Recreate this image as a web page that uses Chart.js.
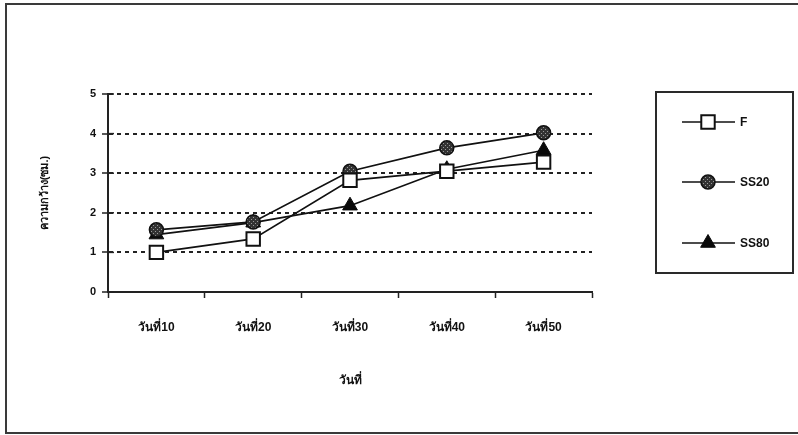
<!DOCTYPE html>
<html>
<head>
<meta charset="utf-8">
<script src="https://cdn.jsdelivr.net/npm/chart.js@4.4.1/dist/chart.umd.min.js"></script>
<style>
  html, body { margin: 0; padding: 0; background: #fff; }
  #wrap { position: relative; width: 798px; height: 435px; overflow: hidden; }
  #frame { position: absolute; left: 5px; top: 3px; width: 820px; height: 427px; border: 2px solid #3a3a3a; }
  canvas { position: absolute; left: 0; top: 0; }
</style>
</head>
<body>
<div id="wrap">
  <div id="frame"></div>
  <canvas id="c" width="798" height="435"></canvas>
</div>
<script>
// Days of measurement
const categories = ['วันที่10', 'วันที่20', 'วันที่30', 'วันที่40', 'วันที่50'];
// Width (cm) per treatment
const seriesF = [1.0, 1.34, 2.82, 3.05, 3.28];
const seriesSS20 = [1.57, 1.77, 3.05, 3.64, 4.02];
const seriesSS80 = [1.45, 1.75, 2.18, 3.1, 3.58];
const yTicks = [0, 1, 2, 3, 4, 5];
const xTitle = 'วันที่';
const yTitle = 'ความกว้าง(ซม.)';

const FONT = "'Liberation Sans', Arial, sans-serif";

// Dark hatched fill for the SS20 circles
function hatchFill() {
  const p = document.createElement('canvas');
  p.width = 4; p.height = 4;
  const g = p.getContext('2d');
  g.fillStyle = '#333';
  g.fillRect(0, 0, 4, 4);
  g.fillStyle = '#999';
  g.fillRect(1, 1, 1, 1);
  g.fillRect(3, 3, 1, 1);
  return g.createPattern(p, 'repeat');
}

const ctx = document.getElementById('c').getContext('2d');

// Short tick marks on the inner side of the value axis
const innerTicks = {
  id: 'innerTicks',
  afterDraw(chart) {
    const y = chart.scales.y;
    const c = chart.ctx;
    c.save();
    c.strokeStyle = '#222';
    c.lineWidth = 1.5;
    yTicks.forEach(v => {
      const py = y.getPixelForValue(v);
      c.beginPath();
      c.moveTo(y.right, py);
      c.lineTo(y.right + 6, py);
      c.stroke();
    });
    c.restore();
  }
};

// Boxed legend with line-through markers
const boxLegend = {
  id: 'boxLegend',
  afterDraw(chart) {
    const c = chart.ctx;
    const box = { x: 656, y: 92, w: 137, h: 181 };
    c.save();
    c.strokeStyle = '#2a2a2a';
    c.lineWidth = 2;
    c.strokeRect(box.x, box.y, box.w, box.h);
    const rows = [122, 182, 243];
    chart.data.datasets.forEach((ds, i) => {
      const yy = rows[i];
      c.strokeStyle = '#111';
      c.lineWidth = 1.6;
      c.beginPath();
      c.moveTo(682, yy);
      c.lineTo(735, yy);
      c.stroke();
      c.fillStyle = ds.pointBackgroundColor;
      c.strokeStyle = ds.pointBorderColor;
      c.lineWidth = ds.pointBorderWidth;
      c.beginPath();
      const r = ds.pointRadius;
      if (ds.pointStyle === 'rect') {
        const s = r * Math.SQRT1_2;
        c.rect(708 - s, yy - s, 2 * s, 2 * s);
      } else if (ds.pointStyle === 'circle') {
        c.arc(708, yy, r, 0, Math.PI * 2);
      } else {
        c.moveTo(708, yy - r);
        c.lineTo(708 + r * 0.866, yy + r * 0.5);
        c.lineTo(708 - r * 0.866, yy + r * 0.5);
        c.closePath();
      }
      c.fill();
      c.stroke();
      c.fillStyle = '#111';
      c.font = "bold 12px " + FONT;
      c.textBaseline = 'middle';
      c.textAlign = 'left';
      c.fillText(ds.label, 740, yy + 1);
    });
    c.restore();
  }
};

const hatch = hatchFill();

new Chart(ctx, {
  type: 'line',
  data: {
    labels: categories,
    datasets: [
      {
        label: 'F', data: seriesF,
        borderColor: '#111', borderWidth: 1.7,
        pointStyle: 'rect', pointRadius: 9.5, pointBorderWidth: 2,
        pointBackgroundColor: '#ffffff', pointBorderColor: '#111'
      },
      {
        label: 'SS20', data: seriesSS20,
        borderColor: '#111', borderWidth: 1.7,
        pointStyle: 'circle', pointRadius: 7, pointBorderWidth: 1.5,
        pointBackgroundColor: hatch, pointBorderColor: '#111'
      },
      {
        label: 'SS80', data: seriesSS80,
        borderColor: '#111', borderWidth: 1.7,
        pointStyle: 'triangle', pointRadius: 8.5, pointBorderWidth: 1,
        pointBackgroundColor: '#0a0a0a', pointBorderColor: '#0a0a0a'
      }
    ]
  },
  options: {
    responsive: false,
    animation: false,
    devicePixelRatio: 1,
    layout: { padding: { left: 0, right: 206, top: 94, bottom: 47 } },
    plugins: { legend: { display: false }, tooltip: { enabled: false } },
    elements: { line: { tension: 0 } },
    scales: {
      x: {
        type: 'category',
        offset: true,
        afterFit(s) { s.height = 96; },
        grid: { offset: true, drawOnChartArea: false, drawTicks: true, tickLength: 6, tickColor: '#222', tickWidth: 1.5 },
        border: { display: true, color: '#222', width: 2 },
        ticks: { color: '#111', font: { family: FONT, size: 12, weight: 'bold' }, padding: 22, maxRotation: 0 },
        title: { display: true, text: xTitle, color: '#111', font: { family: FONT, size: 12, weight: 'bold' }, padding: { top: 0, bottom: 0 } }
      },
      y: {
        min: 0, max: 5,
        afterFit(s) { s.width = 108; },
        afterBuildTicks(s) { s.ticks = yTicks.map(v => ({ value: v })); },
        grid: { color: '#222', lineWidth: 2, tickLength: 6, tickColor: '#222', tickWidth: 1.5 },
        border: { display: true, color: '#222', width: 2, dash: [4, 4] },
        ticks: { color: '#111', font: { family: FONT, size: 11, weight: 'bold' }, padding: 6 },
        title: { display: true, text: yTitle, color: '#111', font: { family: FONT, size: 11, weight: 'bold' }, padding: { top: 38, bottom: 0 } }
      }
    }
  },
  plugins: [innerTicks, boxLegend]
});
</script>
</body>
</html>
